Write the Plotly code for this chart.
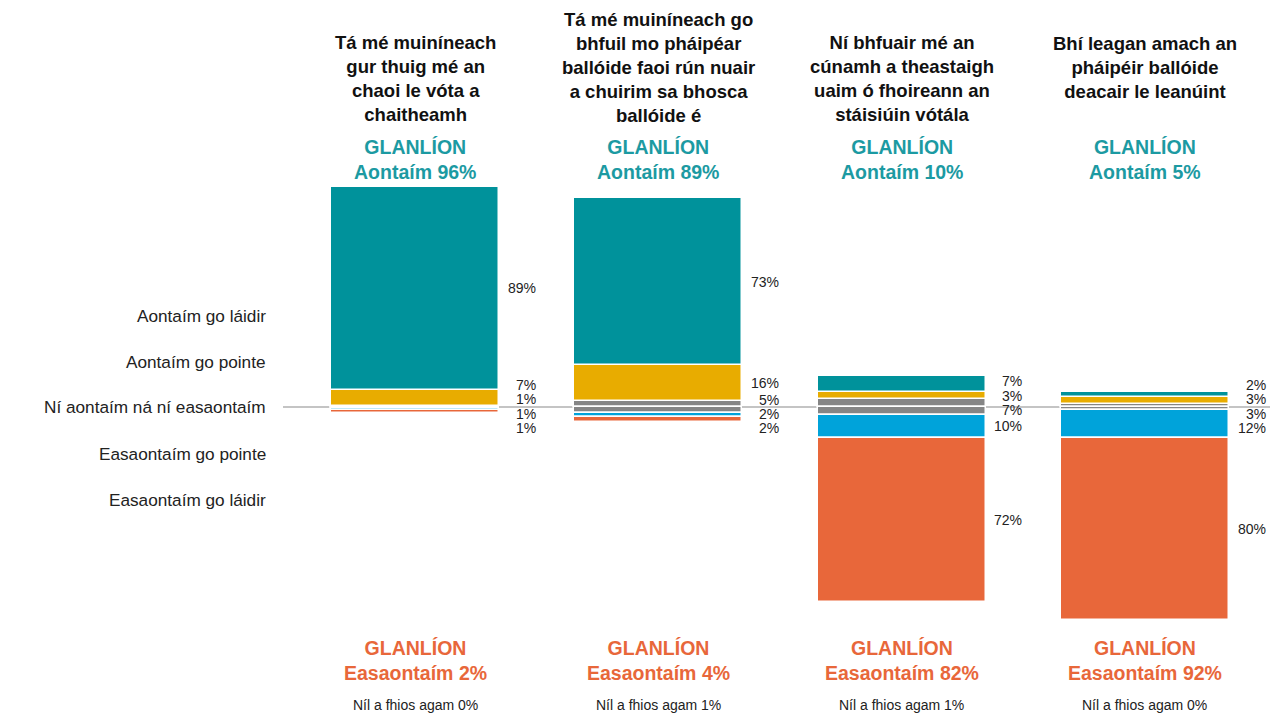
import plotly.graph_objects as go

# ---------------- data ----------------
titles = [
    "Tá mé muiníneach<br>gur thuig mé an<br>chaoi le vóta a<br>chaitheamh",
    "Tá mé muiníneach go<br>bhfuil mo pháipéar<br>ballóide faoi rún nuair<br>a chuirim sa bhosca<br>ballóide é",
    "Ní bhfuair mé an<br>cúnamh a theastaigh<br>uaim ó fhoireann an<br>stáisiúin vótála",
    "Bhí leagan amach an<br>pháipéir ballóide<br>deacair le leanúint",
]
scale_labels = ["Aontaím go láidir", "Aontaím go pointe", "Ní aontaím ná ní easaontaím",
                "Easaontaím go pointe", "Easaontaím go láidir"]
strong_agree = [89, 73, 7, 2]
some_agree = [7, 16, 3, 3]
neutral = [1, 5, 7, 3]
some_disagree = [1, 2, 10, 12]
strong_disagree = [1, 2, 72, 80]
dont_know = [0, 1, 1, 0]

# ---------------- styling / layout ----------------
OFF = 8                          # page body margin
W, H = 1288 - OFF, 718 - OFF
X0_PX, PXX = 415.0, 243.3        # page pixel of first column centre, pixels per column
BASE_PX, PPY = 407.0, 2.28       # page pixel of baseline, pixels per percent
C_TEAL, C_GOLD, C_GREY, C_BLUE, C_ORANGE = "#00929B", "#E8AC00", "#858585", "#00A3DA", "#E8673A"
FONT = "Liberation Sans, Arial, sans-serif"
TXT = "#222222"
BAR_W = 0.69

def xd(px):
    return (px - X0_PX) / PXX

def yd(py):
    return (BASE_PX - py) / PPY

cols = list(range(len(titles)))
fig = go.Figure()

def add_seg(lengths, bases, color):
    fig.add_trace(go.Bar(x=cols, y=lengths, base=bases, width=BAR_W,
                         marker=dict(color=color, line=dict(color="white", width=1.5)),
                         showlegend=False, hoverinfo="skip"))

half_n = [n / 2 for n in neutral]
# above baseline
add_seg(half_n, [0] * 4, C_GREY)
add_seg(some_agree, half_n, C_GOLD)
add_seg(strong_agree, [h + s for h, s in zip(half_n, some_agree)], C_TEAL)
# below baseline
add_seg([-h for h in half_n], [0] * 4, C_GREY)
add_seg([-v for v in some_disagree], [-h for h in half_n], C_BLUE)
add_seg([-v for v in strong_disagree], [-h - s for h, s in zip(half_n, some_disagree)], C_ORANGE)

annotations = []

# value labels with de-overlap
GAP = 6.2
def spread(centers):
    groups = [[i] for i in range(len(centers))]
    def layout(g):
        m = sum(centers[i] for i in g) / len(g)
        top = m + GAP * (len(g) - 1) / 2
        return [top - GAP * k for k in range(len(g))]
    changed = True
    while changed:
        changed = False
        for gi in range(len(groups) - 1):
            a = layout(groups[gi])[-1]
            b = layout(groups[gi + 1])[0]
            if a - b < GAP:
                groups[gi] = groups[gi] + groups[gi + 1]
                del groups[gi + 1]
                changed = True
                break
    pos = [0] * len(centers)
    for g in groups:
        for i, p in zip(g, layout(g)):
            pos[i] = p
    return pos

for c in cols:
    h = half_n[c]
    vals = [strong_agree[c], some_agree[c], neutral[c], some_disagree[c], strong_disagree[c]]
    centers = [
        h + some_agree[c] + strong_agree[c] / 2,
        h + some_agree[c] / 2,
        0,
        -h - some_disagree[c] / 2,
        -h - some_disagree[c] - strong_disagree[c] / 2,
    ]
    for v, y in zip(vals, spread(centers)):
        annotations.append(dict(x=c + 0.505, y=y, text=f"{v}%", showarrow=False,
                                xanchor="right", yanchor="middle",
                                font=dict(size=14, color=TXT, family=FONT)))

# titles (vertical centre of each block, page pixels)
title_mid_px = [78, 67, 78, 67]
for c in cols:
    annotations.append(dict(x=c, y=yd(title_mid_px[c]), text=f"<b>{titles[c]}</b>", showarrow=False,
                            xanchor="center", yanchor="middle", align="center",
                            font=dict(size=18.5, color="#111111", family=FONT)))
    net_a = strong_agree[c] + some_agree[c]
    net_d = some_disagree[c] + strong_disagree[c]
    annotations.append(dict(x=c, y=yd(159), text=f"<b>GLANLÍON<br>Aontaím {net_a}%</b>", showarrow=False,
                            xanchor="center", yanchor="middle", align="center",
                            font=dict(size=19.5, color="#1C9AA2", family=FONT)))
    annotations.append(dict(x=c, y=yd(660), text=f"<b>GLANLÍON<br>Easaontaím {net_d}%</b>", showarrow=False,
                            xanchor="center", yanchor="middle", align="center",
                            font=dict(size=19.5, color=C_ORANGE, family=FONT)))
    annotations.append(dict(x=c, y=yd(705), text=f"Níl a fhios agam {dont_know[c]}%", showarrow=False,
                            xanchor="center", yanchor="middle",
                            font=dict(size=14, color=TXT, family=FONT)))

# scale labels at left
label_px = [316, 362, 407, 454, 500]
for lab, py in zip(scale_labels, label_px):
    annotations.append(dict(x=xd(268), y=yd(py), text=lab, showarrow=False,
                            xanchor="right", yanchor="middle",
                            font=dict(size=17.2, color=TXT, family=FONT)))

fig.update_layout(
    width=W, height=H, autosize=False,
    margin=dict(l=0, r=0, t=0, b=0),
    paper_bgcolor="white", plot_bgcolor="white",
    barmode="overlay", bargap=0,
    xaxis=dict(range=[xd(OFF), xd(OFF + W)], visible=False, fixedrange=True),
    yaxis=dict(range=[yd(OFF + H), yd(OFF)], visible=False, fixedrange=True),
    annotations=annotations,
    shapes=[dict(type="line", xref="x", yref="y", x0=xd(283), x1=xd(1270), y0=0, y1=0,
                 line=dict(color="#B0B0B0", width=1.5), layer="below")],
)

fig.write_html("out.html")
